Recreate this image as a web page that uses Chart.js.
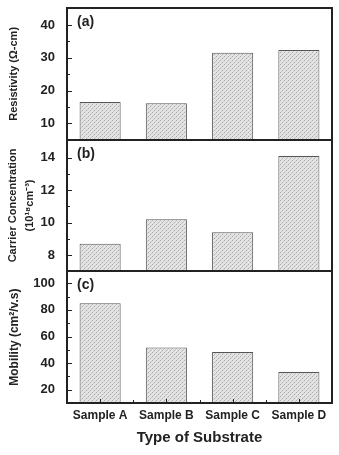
<!DOCTYPE html>
<html>
<head>
<meta charset="utf-8">
<script src="https://cdn.jsdelivr.net/npm/chart.js@4"></script>
<style>
  html, body { margin: 0; padding: 0; background: #fff; }
  #wrap { width: 339px; height: 455px; }
</style>
</head>
<body>
<div id="wrap"><canvas id="chart" width="339" height="455"></canvas></div>
<script>
// categories and values
const samples = ['Sample A', 'Sample B', 'Sample C', 'Sample D'];
const resistivity = [16.5, 16.1, 31.5, 32.4];
const carrier = [8.7, 10.2, 9.4, 14.1];
const mobility = [85, 51.7, 48.4, 33.3];

// tick labels of each panel
const ticksA = [10, 20, 30, 40];
const ticksB = [8, 10, 12, 14];
const ticksC = [20, 40, 60, 80, 100];
const minorA = [15, 25, 35];
const minorB = [9, 11, 13];
const minorC = [30, 50, 70, 90];

const panelNames = ['(a)', '(b)', '(c)'];

// grey stippled fill like the scanned bars
function makePattern() {
    const c = document.createElement('canvas');
    c.width = 4; c.height = 4;
    const g = c.getContext('2d');
    g.fillStyle = '#e4e4e4';
    g.fillRect(0, 0, 4, 4);
    g.fillStyle = '#aaaaaa';
    g.fillRect(0, 0, 1, 1);
    g.fillRect(2, 2, 1, 1);
    g.fillStyle = '#c8c8c8';
    g.fillRect(1, 3, 1, 1);
    g.fillRect(3, 1, 1, 1);
    return g.createPattern(c, 'repeat');
}
const hatch = makePattern();

const boldFont = (size) => ({ family: 'Liberation Sans, Arial, sans-serif', size: size, weight: 'bold' });

function fixTicks(list) {
    return (scale) => { scale.ticks = list.map(v => ({ value: v })); };
}

function yAxis(min, max, list, title, titleFont, pad) {
    return {
        type: 'linear',
        position: 'left',
        stack: 'panels',
        stackWeight: 1,
        min: min,
        max: max,
        afterBuildTicks: fixTicks(list),
        afterFit: (scale) => {
            scale.width = 67;
            scale.paddingTop = 0;
            scale.paddingBottom = 0;
        },
        grid: { display: false, drawTicks: false },
        border: { display: false },
        ticks: { color: '#222', font: boldFont(13), padding: 12 },
        title: { display: true, text: title, color: '#222', font: titleFont, padding: { top: pad, bottom: 0 } }
    };
}

// frame, panel separators, inward tick marks and panel letters
const framePlugin = {
    id: 'frame',
    afterDraw(chart) {
        const ctx = chart.ctx;
        const area = chart.chartArea;
        const ids = ['ya', 'yb', 'yc'];
        const minors = [minorA, minorB, minorC];
        const majors = [ticksA, ticksB, ticksC];
        ctx.save();
        ctx.strokeStyle = '#222';
        ctx.lineWidth = 1;
        ids.forEach((id, i) => {
            const s = chart.scales[id];
            ctx.beginPath();
            majors[i].forEach(v => {
                const y = Math.round(s.getPixelForValue(v)) + 0.5;
                ctx.moveTo(area.left, y);
                ctx.lineTo(area.left + 5, y);
            });
            minors[i].forEach(v => {
                const y = Math.round(s.getPixelForValue(v)) + 0.5;
                ctx.moveTo(area.left, y);
                ctx.lineTo(area.left + 3, y);
            });
            ctx.stroke();
            ctx.fillStyle = '#222';
            ctx.font = 'bold 14px "Liberation Sans", Arial, sans-serif';
            ctx.textBaseline = 'middle';
            ctx.textAlign = 'left';
            ctx.fillText(panelNames[i], area.left + 10, s.top + 14);
        });
        // x ticks at centres and between categories
        const x = chart.scales.x;
        ctx.beginPath();
        samples.forEach((name, i) => {
            const cx = Math.round(x.getPixelForValue(i)) + 0.5;
            ctx.moveTo(cx, area.bottom);
            ctx.lineTo(cx, area.bottom - 4);
            if (i > 0) {
                const bx = Math.round((x.getPixelForValue(i) + x.getPixelForValue(i - 1)) / 2) + 0.5;
                ctx.moveTo(bx, area.bottom);
                ctx.lineTo(bx, area.bottom - 3);
            }
        });
        ctx.stroke();
        // separators between panels
        ctx.lineWidth = 2;
        ctx.beginPath();
        ['ya', 'yb'].forEach(id => {
            const y = Math.round(chart.scales[id].bottom);
            ctx.moveTo(area.left, y);
            ctx.lineTo(area.right, y);
        });
        ctx.stroke();
        ctx.strokeRect(area.left, area.top, area.right - area.left, area.bottom - area.top);
        ctx.restore();
    }
};

function barSet(values, axis) {
    return {
        data: values,
        yAxisID: axis,
        xAxisID: 'x',
        grouped: false,
        backgroundColor: hatch,
        borderColor: '#555',
        borderWidth: 1,
        borderSkipped: false,
        categoryPercentage: 1,
        barPercentage: 0.62
    };
}

const ctx = document.getElementById('chart');
new Chart(ctx, {
    type: 'bar',
    data: {
        labels: samples,
        datasets: [
            barSet(resistivity, 'ya'),
            barSet(carrier, 'yb'),
            barSet(mobility, 'yc')
        ]
    },
    options: {
        responsive: false,
        animation: false,
        layout: { padding: { top: 8, right: 7, left: 0, bottom: 0 } },
        plugins: { legend: { display: false }, tooltip: { enabled: false } },
        scales: {
            // stacked axes are laid out bottom-up, so the bottom panel comes first
            yc: yAxis(10, 109, ticksC, 'Mobility (cm\u00B2/v.s)', boldFont(12), 7),
            yb: yAxis(7, 15.1, ticksB, ['Carrier Concentration', '(10\u00B9\u2078cm\u207B\u00B3)'],
                Object.assign(boldFont(11), { lineHeight: 1.55 }), 4),
            ya: yAxis(5, 45.2, ticksA, 'Resistivity (\u03A9-cm)', boldFont(11), 7),
            x: {
                type: 'category',
                position: 'bottom',
                offset: true,
                afterFit: (scale) => {
                    scale.height = 52;
                    scale.paddingLeft = 0;
                    scale.paddingRight = 0;
                },
                grid: { display: false, drawTicks: false },
                border: { display: false },
                ticks: { color: '#222', font: boldFont(12), padding: 5, maxRotation: 0 },
                title: { display: true, text: 'Type of Substrate', color: '#222', font: boldFont(15), padding: { top: 0, bottom: 8 } }
            }
        }
    },
    plugins: [framePlugin]
});
</script>
</body>
</html>
